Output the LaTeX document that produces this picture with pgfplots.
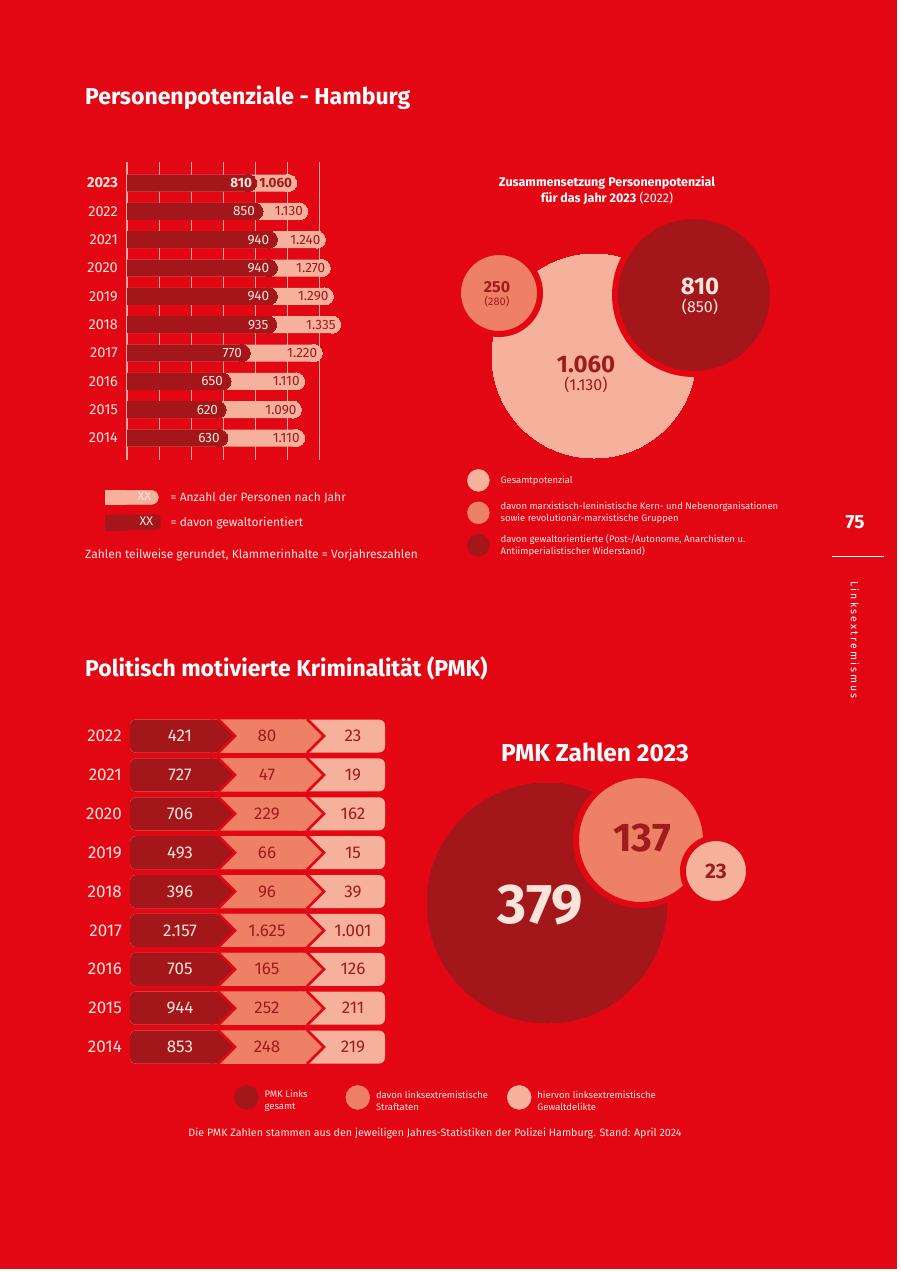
\documentclass[border=0pt]{standalone}
\usepackage{fontspec}
\setmainfont{Fira Sans}
\newfontfamily\spaced[LetterSpace=20]{Fira Sans}
\usepackage{pgfplots}
\usepackage{pgfplotstable}
\pgfplotsset{compat=1.18}
\newcommand{\fs}[2]{\fontsize{#1}{#2}\selectfont}
\definecolor{bgred}{HTML}{E30613}
\definecolor{pDark}{HTML}{A3161A}
\definecolor{pCoral}{HTML}{EE8066}
\definecolor{pLight}{HTML}{F5B19B}
\definecolor{txtL}{HTML}{FCE4DA}
\definecolor{dkText}{HTML}{9F1B1D}
\definecolor{gridc}{HTML}{F4A69C}

\pgfplotsset{/pgf/number format/1000 sep={.}, /pgf/number format/assume math mode=true}

% PMK table cells as plot marks (origin = left end of the row, vertical centre)
\pgfdeclareplotmark{cellC}{%
  \pgfsetcornersarced{\pgfpoint{6pt}{6pt}}%
  \pgfpathmoveto{\pgfpoint{0pt}{0pt}}%
  \pgfpathlineto{\pgfpoint{0pt}{16.5pt}}%
  \pgfpathlineto{\pgfpoint{255pt}{16.5pt}}%
  \pgfpathlineto{\pgfpoint{255pt}{-16.5pt}}%
  \pgfpathlineto{\pgfpoint{0pt}{-16.5pt}}%
  \pgfpathclose
  \pgfusepath{fill}%
  \pgfsetcornersarced{\pgfpointorigin}%
}
\pgfdeclareplotmark{cellB}{%
  \pgfsetcornersarced{\pgfpoint{6pt}{6pt}}%
  \pgfpathmoveto{\pgfpoint{0pt}{0pt}}%
  \pgfpathlineto{\pgfpoint{0pt}{16.5pt}}%
  \pgfpathlineto{\pgfpoint{177pt}{16.5pt}}%
  \pgfpathlineto{\pgfpoint{177pt}{-16.5pt}}%
  \pgfpathlineto{\pgfpoint{0pt}{-16.5pt}}%
  \pgfpathclose
  \pgfusepath{fill}%
  \pgfsetcornersarced{\pgfpointorigin}%
  \pgfpathmoveto{\pgfpoint{169pt}{16.5pt}}%
  \pgfpathlineto{\pgfpoint{177pt}{16.5pt}}%
  \pgfpathlineto{\pgfpoint{194pt}{0pt}}%
  \pgfpathlineto{\pgfpoint{177pt}{-16.5pt}}%
  \pgfpathlineto{\pgfpoint{169pt}{-16.5pt}}%
  \pgfpathclose
  \pgfusepath{fill}%
  \pgfsetstrokecolor{bgred}\pgfsetlinewidth{2.6pt}%
  \pgfpathmoveto{\pgfpoint{177pt}{17pt}}%
  \pgfpathlineto{\pgfpoint{194pt}{0pt}}%
  \pgfpathlineto{\pgfpoint{177pt}{-17pt}}%
  \pgfusepath{stroke}%
}
\pgfdeclareplotmark{cellA}{%
  \pgfsetcornersarced{\pgfpoint{6pt}{6pt}}%
  \pgfpathmoveto{\pgfpoint{0pt}{0pt}}%
  \pgfpathlineto{\pgfpoint{0pt}{16.5pt}}%
  \pgfpathlineto{\pgfpoint{88pt}{16.5pt}}%
  \pgfpathlineto{\pgfpoint{88pt}{-16.5pt}}%
  \pgfpathlineto{\pgfpoint{0pt}{-16.5pt}}%
  \pgfpathclose
  \pgfusepath{fill}%
  \pgfsetcornersarced{\pgfpointorigin}%
  \pgfpathmoveto{\pgfpoint{80pt}{16.5pt}}%
  \pgfpathlineto{\pgfpoint{88pt}{16.5pt}}%
  \pgfpathlineto{\pgfpoint{105pt}{0pt}}%
  \pgfpathlineto{\pgfpoint{88pt}{-16.5pt}}%
  \pgfpathlineto{\pgfpoint{80pt}{-16.5pt}}%
  \pgfpathclose
  \pgfusepath{fill}%
  \pgfsetstrokecolor{bgred}\pgfsetlinewidth{2.6pt}%
  \pgfpathmoveto{\pgfpoint{88pt}{17pt}}%
  \pgfpathlineto{\pgfpoint{105pt}{0pt}}%
  \pgfpathlineto{\pgfpoint{88pt}{-17pt}}%
  \pgfusepath{stroke}%
}

\pgfplotsset{
  legXL/.style={legend image code/.code={%
    \fill[pLight,rounded corners=7pt] (0pt,-7pt) rectangle (53pt,7pt);
    \fill[pLight] (0pt,-7pt) rectangle (20pt,7pt);
    \node[anchor=east,inner sep=0pt,text=txtL,font=\fs{12.5}{13}] at (46pt,0pt) {XX};}},
  legXD/.style={legend image code/.code={%
    \fill[pDark,rounded corners=4pt] (0pt,-7.5pt) rectangle (55pt,7.5pt);
    \fill[pDark] (0pt,-7.5pt) rectangle (20pt,7.5pt);
    \node[anchor=east,inner sep=0pt,text=txtL,font=\fs{12.5}{13}] at (48pt,0pt) {XX};}},
  legL/.style={legend image code/.code={\fill[pLight] (11pt,0pt) circle[radius=11pt];}},
  legC/.style={legend image code/.code={\fill[pCoral] (11pt,0pt) circle[radius=11pt];}},
  legD/.style={legend image code/.code={\fill[pDark] (11pt,0pt) circle[radius=11pt];}},
  legL2/.style={legend image code/.code={\fill[pLight] (12pt,0pt) circle[radius=12pt];}},
  legC2/.style={legend image code/.code={\fill[pCoral] (12pt,0pt) circle[radius=12pt];}},
  legD2/.style={legend image code/.code={\fill[pDark] (12pt,0pt) circle[radius=12pt];}},
}

\pgfplotstableread{
year total violent
2014 1110 630
2015 1090 620
2016 1110 650
2017 1220 770
2018 1335 935
2019 1290 940
2020 1270 940
2021 1240 940
2022 1130 850
2023 1060 810
}\dataT

\pgfplotstableread{
year a b c
2014 853 248 219
2015 944 252 211
2016 705 165 126
2017 2157 1625 1001
2018 396 96 39
2019 493 66 15
2020 706 229 162
2021 727 47 19
2022 421 80 23
}\dataP

\begin{document}
\begin{tikzpicture}[x=1pt,y=1pt]
\fill[white] (0,0) rectangle (900,-1272);
\fill[bgred] (0,0) rectangle (897,-1269);

% ---------- titles and free text ----------
\node[anchor=west,inner sep=0pt,text=white,font=\bfseries\fs{23}{27}] at (85,-98) {Personenpotenziale - Hamburg};
\node[anchor=west,inner sep=0pt,text=white,font=\bfseries\fs{23}{27}] at (85,-668) {Politisch motivierte Kriminalität (PMK)};
\node[inner sep=0pt,text=white,font=\bfseries\fs{24.5}{28}] at (595,-752) {PMK Zahlen 2023};
\node[inner sep=0pt,text=white,align=center,font=\fs{12.5}{16}] at (607,-190) {\textbf{Zusammensetzung Personenpotenzial}\\\textbf{für das Jahr 2023} (2022)};
\node[anchor=west,inner sep=0pt,text=txtL,font=\fs{12}{14}] at (85,-555) {Zahlen teilweise gerundet, Klammerinhalte = Vorjahreszahlen};
\node[inner sep=0pt,text=txtL,font=\fs{10.7}{12}] at (435,-1133) {Die PMK Zahlen stammen aus den jeweiligen Jahres-Statistiken der Polizei Hamburg. Stand: April 2024};
\node[inner sep=0pt,text=white,font=\bfseries\fs{19}{22}] at (855,-522) {75};
\draw[white,line width=0.8pt] (832,-556) -- (884,-556);
\node[inner sep=0pt,text=white,rotate=-90,font=\spaced\fs{10.5}{12}] at (855,-640) {Linksextremismus};

% ---------- Personenpotenziale bars ----------
\begin{axis}[
  at={(127pt,-162pt)}, anchor=north west,
  width=224pt, height=298pt, scale only axis, clip=false,
  xmin=0, xmax=1400, ymin=2013.224, ymax=2023.741,
  axis line style={draw=none},
  xtick=\empty,
  major tick length=0pt, tick style={draw=none},
  ytick={2014,2015,...,2023},
  yticklabels={2014,2015,2016,2017,2018,2019,2020,2021,2022,\textbf{2023}},
  yticklabel style={font=\fs{14.5}{16}, text=txtL, inner sep=0pt, xshift=-9pt},
  legend style={at={(axis cs:-137.5,2012.165)}, anchor=north west, draw=none, fill=none,
    inner sep=0pt, column sep=10pt, row sep=10pt, font=\fs{12}{14}, text=txtL,
    nodes={inner sep=0pt}},
  legend cell align=left,
]
\pgfplotsinvokeforeach{200,400,600,800,1000,1200}{
  \draw[gridc, line width=0.9pt] (axis cs:#1,2013.224) -- (axis cs:#1,2023.741);
}
\draw[gridc, line width=1.2pt] (axis cs:0,2013.224) -- (axis cs:0,2023.741);
\addlegendimage{legXL}\addlegendentry{= Anzahl der Personen nach Jahr}
\addlegendimage{legXD}\addlegendentry{= davon gewaltorientiert}
\addplot[forget plot, xbar, bar shift=0pt, bar width=17pt, fill=pLight, draw=none]
  table[x expr=\thisrow{total}-53, y=year]{\dataT};
\addplot[forget plot, only marks, color=pLight, mark=*, mark size=8.5pt, mark options={fill=pLight, draw=pLight, line width=0pt}]
  table[x expr=\thisrow{total}-53, y=year]{\dataT};
\addplot[forget plot, xbar, bar shift=0pt, bar width=17pt, fill=pDark, draw=none]
  table[x expr=\thisrow{violent}-53, y=year]{\dataT};
\addplot[forget plot, only marks, color=pDark, mark=*, mark size=8.5pt, mark options={fill=pDark, draw=pDark, line width=0pt}]
  table[x expr=\thisrow{violent}-53, y=year]{\dataT};
% labels
\addplot[forget plot, only marks, mark=none, nodes near coords, point meta=\thisrow{total},
  restrict y to domain=2013:2022.5,
  every node near coord/.append style={anchor=east, inner sep=0pt, text=dkText, font=\fs{13.5}{15}}]
  table[x expr=\thisrow{total}-30, y=year]{\dataT};
\addplot[forget plot, only marks, mark=none, nodes near coords, point meta=\thisrow{violent},
  restrict y to domain=2013:2022.5,
  every node near coord/.append style={anchor=east, inner sep=0pt, text=txtL, font=\fs{13.5}{15}}]
  table[x expr=\thisrow{violent}-50, y=year]{\dataT};
\addplot[forget plot, only marks, mark=none, nodes near coords, point meta=\thisrow{total},
  restrict y to domain=2022.5:2023.5,
  every node near coord/.append style={anchor=east, inner sep=0pt, text=dkText, font=\bfseries\fs{13.5}{15}}]
  table[x expr=\thisrow{total}-27, y=year]{\dataT};
\addplot[forget plot, only marks, mark=none, nodes near coords, point meta=\thisrow{violent},
  restrict y to domain=2022.5:2023.5,
  every node near coord/.append style={anchor=east, inner sep=0pt, text=txtL, font=\bfseries\fs{13.5}{15}}]
  table[x expr=\thisrow{violent}-27, y=year]{\dataT};
\end{axis}

% ---------- Zusammensetzung bubbles ----------
\begin{axis}[
  at={(0pt,-150pt)}, anchor=north west,
  width=900pt, height=450pt, scale only axis, clip=false, hide axis,
  xmin=0, xmax=900, ymin=150, ymax=600, y dir=reverse,
  legend style={at={(axis cs:467,469)}, anchor=north west, draw=none, fill=none,
    inner sep=0pt, column sep=11pt, row sep=10pt, font=\fs{9.5}{12}, text=txtL,
    nodes={inner sep=0pt}, cells={align=left}},
  legend cell align=left,
]
\addlegendimage{legL}\addlegendentry{Gesamtpotenzial}
\addlegendimage{legC}\addlegendentry{davon marxistisch-leninistische Kern- und Nebenorganisationen\\sowie revolutionär-marxistische Gruppen}
\addlegendimage{legD}\addlegendentry{davon gewaltorientierte (Post-/Autonome, Anarchisten u.\\Antiimperialistischer Widerstand)}
\addplot[forget plot, only marks, color=pLight, mark=*, mark size=102pt, mark options={fill=pLight, draw=pLight, line width=0pt},
  point meta=explicit, nodes near coords={\bfseries\fs{24}{26}\pgfmathprintnumber{\pgfplotspointmeta}\\[3pt]\mdseries\fs{16}{18}(1.130)},
  every node near coord/.append style={anchor=center, align=center, text=dkText, inner sep=0pt, xshift=-8pt, yshift=-18pt}]
  coordinates {(594,356) [1060]};
\addplot[forget plot, only marks, color=bgred, mark=*, mark size=79pt, mark options={fill=pDark, draw=bgred, line width=6pt},
  point meta=explicit, nodes near coords={\bfseries\fs{24}{26}\pgfmathprintnumber{\pgfplotspointmeta}\\[3pt]\mdseries\fs{16}{18}(850)},
  every node near coord/.append style={anchor=center, align=center, text=txtL, inner sep=0pt, xshift=6pt, yshift=-1pt}]
  coordinates {(694,295) [810]};
\addplot[forget plot, only marks, color=bgred, mark=*, mark size=41pt, mark options={fill=pCoral, draw=bgred, line width=6pt},
  point meta=explicit, nodes near coords={\bfseries\fs{16}{17}\pgfmathprintnumber{\pgfplotspointmeta}\\[1pt]\mdseries\fs{11}{13}(280)},
  every node near coord/.append style={anchor=center, align=center, text=dkText, inner sep=0pt, xshift=-2pt, yshift=-1pt}]
  coordinates {(499,293) [250]};
\end{axis}

% ---------- PMK table (rows indexed 0 = 2014 ... 8 = 2022) ----------
\begin{axis}[
  at={(130pt,-716.6pt)}, anchor=north west,
  width=255pt, height=349.9pt, scale only axis, clip=false,
  xmin=0, xmax=255, ymin=-0.5, ymax=8.5,
  axis line style={draw=none}, tick style={draw=none}, major tick length=0pt,
  xtick={0}, xticklabels={},
  ytick={0,1,...,8},
  yticklabels={2014,2015,2016,2017,2018,2019,2020,2021,2022},
  yticklabel style={font=\fs{17}{19}, text=txtL, inner sep=0pt, xshift=-8pt},
]
\addplot[forget plot, only marks, mark=cellC, mark options={fill=pLight, draw=none}] table[x expr=0, y expr=\thisrow{year}-2014]{\dataP};
\addplot[forget plot, only marks, mark=cellB, mark options={fill=pCoral, draw=none}] table[x expr=0, y expr=\thisrow{year}-2014]{\dataP};
\addplot[forget plot, only marks, mark=cellA, mark options={fill=pDark, draw=none}] table[x expr=0, y expr=\thisrow{year}-2014]{\dataP};
\addplot[forget plot, only marks, mark=none, nodes near coords, point meta=\thisrow{a},
  every node near coord/.append style={anchor=center, inner sep=0pt, text=txtL, font=\fs{17}{19}}]
  table[x expr=50, y expr=\thisrow{year}-2014]{\dataP};
\addplot[forget plot, only marks, mark=none, nodes near coords, point meta=\thisrow{b},
  every node near coord/.append style={anchor=center, inner sep=0pt, text=dkText, font=\fs{17}{19}}]
  table[x expr=137, y expr=\thisrow{year}-2014]{\dataP};
\addplot[forget plot, only marks, mark=none, nodes near coords, point meta=\thisrow{c},
  every node near coord/.append style={anchor=center, inner sep=0pt, text=dkText, font=\fs{17}{19}}]
  table[x expr=223, y expr=\thisrow{year}-2014]{\dataP};
\end{axis}

% ---------- PMK bubbles ----------
\begin{axis}[
  at={(0pt,-700pt)}, anchor=north west,
  width=900pt, height=450pt, scale only axis, clip=false, hide axis,
  xmin=0, xmax=900, ymin=700, ymax=1150, y dir=reverse,
  legend columns=3,
  legend style={at={(axis cs:234,1085)}, anchor=north west, draw=none, fill=none,
    inner sep=0pt, column sep=6pt, font=\fs{9.5}{12}, text=txtL,
    nodes={inner sep=0pt}},
  legend cell align=left,
]
\addlegendimage{legD2}\addlegendentry{\parbox[c]{75pt}{PMK Links\\gesamt}}
\addlegendimage{legC2}\addlegendentry{\parbox[c]{125pt}{davon linksextremistische\\Straftaten}}
\addlegendimage{legL2}\addlegendentry{\parbox[c]{130pt}{hiervon linksextremistische\\Gewaltdelikte}}
\addplot[forget plot, only marks, color=pDark, mark=*, mark size=120pt, mark options={fill=pDark, draw=pDark, line width=0pt},
  point meta=explicit, nodes near coords,
  every node near coord/.append style={anchor=center, text=txtL, inner sep=0pt, font=\bfseries\fs{56}{58}, xshift=-7pt, yshift=-2pt}]
  coordinates {(547,903) [379]};
\addplot[forget plot, only marks, color=bgred, mark=*, mark size=65pt, mark options={fill=pCoral, draw=bgred, line width=6pt},
  point meta=explicit, nodes near coords,
  every node near coord/.append style={anchor=center, text=dkText, inner sep=0pt, font=\bfseries\fs{40}{42}, xshift=1pt, yshift=2pt}]
  coordinates {(641,840) [137]};
\addplot[forget plot, only marks, color=bgred, mark=*, mark size=33pt, mark options={fill=pLight, draw=bgred, line width=6pt},
  point meta=explicit, nodes near coords,
  every node near coord/.append style={anchor=center, text=dkText, inner sep=0pt, font=\bfseries\fs{21}{23}}]
  coordinates {(716,871) [23]};
\end{axis}

\pgfresetboundingbox
\path[use as bounding box] (0,0) rectangle (900,-1272);
\end{tikzpicture}
\end{document}
